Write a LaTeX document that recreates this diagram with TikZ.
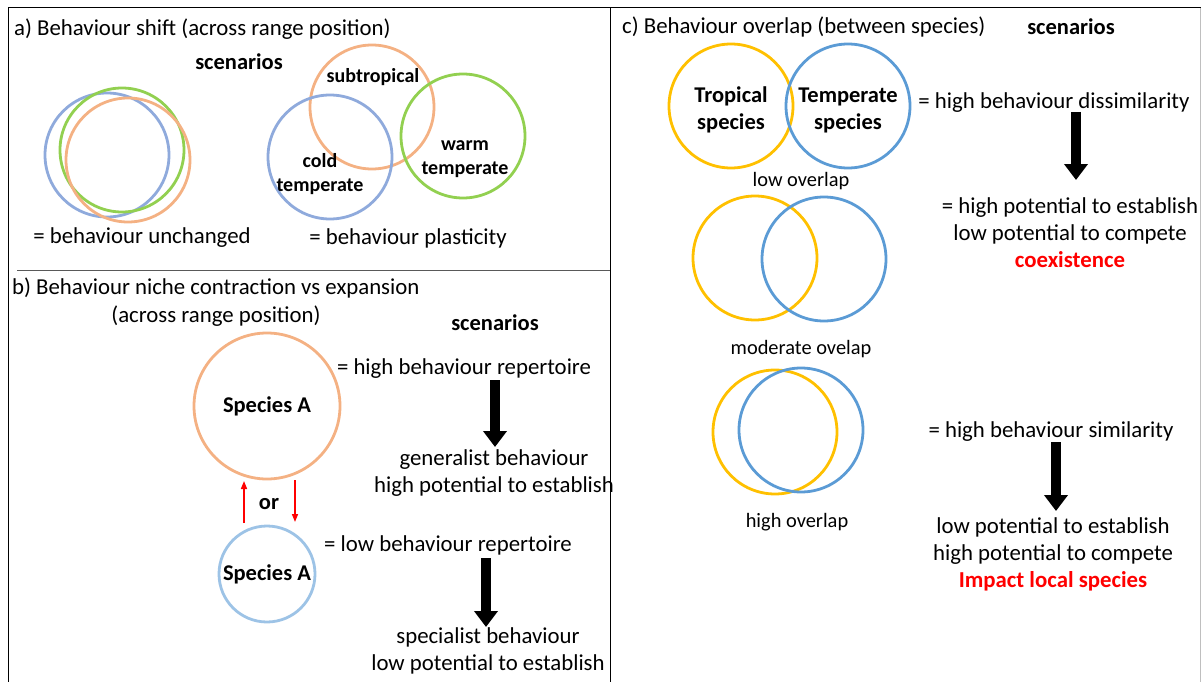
\documentclass[tikz,border=0pt]{standalone}
\usepackage{fontspec}
\setmainfont{Carlito}
\usetikzlibrary{arrows.meta}
\definecolor{cblue}{HTML}{8FAADC}
\definecolor{cgreen}{HTML}{92D050}
\definecolor{corange}{HTML}{F4B183}
\definecolor{clight}{HTML}{9DC3E6}
\definecolor{cyellow}{HTML}{FFC000}
\definecolor{csky}{HTML}{5B9BD5}
\begin{document}
\begin{tikzpicture}[x=1pt,y=1pt]
\tikzstyle{every node}+=[inner sep=0pt]
\tikzstyle{txt}=[font=\fontsize{22.8}{27}\selectfont,align=center]
\tikzstyle{small}=[font=\fontsize{20.4}{24}\selectfont,align=center]
\tikzstyle{bold}=[font=\fontsize{22.5}{27}\selectfont\bfseries,align=center]
\tikzstyle{boldsmall}=[font=\fontsize{20}{24}\selectfont\bfseries,align=center]
\tikzstyle{ring}=[circle,line width=2.8pt,minimum size=124pt]
\tikzstyle{bigarrow}=[line width=10pt,-{Triangle[width=23pt,length=16pt]}]
\tikzstyle{redarrow}=[red,line width=1.5pt,-{Triangle[width=6pt,length=8pt]}]
\useasboundingbox (0,0) rectangle (1201,-682);
\draw [black,line width=1pt] (8,-682) -- (8,-8) -- (1201,-8);
\draw [black,line width=1pt] (610,-8) -- (610,-682);
\draw [gray!50,line width=1pt] (1200,-8) -- (1200,-682);
\draw [gray!70!black,line width=1pt] (17,-270) -- (610,-270);
\node [txt,anchor=west] (ttla) at (14,-29) {a) Behaviour shift (across range position)};
\node [bold] (scna) at (239,-62) {scenarios};
\node [ring,draw=cblue] (ub) at (107,-155) {};
\node [ring,draw=cgreen] (ug) at (122,-150) {};
\node [ring,draw=corange] (uo) at (128,-160) {};
\node [ring,draw=corange] (sub) at (372,-107) {};
\node [ring,draw=cblue] (cold) at (330,-157) {};
\node [ring,draw=cgreen] (warm) at (463,-136) {};
\node [boldsmall] (subl) at (373,-77) {subtropical};
\node [boldsmall] (coldl) at (320,-174) {cold\\temperate};
\node [boldsmall] (warml) at (465,-159) {warm\\temperate};
\node [txt] (unch) at (142,-238) {= behaviour unchanged};
\node [txt] (plas) at (408,-238) {= behaviour plasticity};
\node [txt,anchor=west] (ttlb) at (12,-288) {b) Behaviour niche contraction vs expansion};
\node [txt] (ttlb2) at (216,-316) {(across range position)};
\node [bold] (scnb) at (495,-323) {scenarios};
\node [circle,draw=corange,line width=2.8pt,minimum size=146pt,bold] (spbig) at (267,-406) {Species A};
\node [circle,draw=clight,line width=2.8pt,minimum size=96pt,bold] (spsmall) at (267,-574) {Species A};
\node [txt] (hirep) at (464,-369) {= high behaviour repertoire};
\node [txt] (gen) at (494,-473) {generalist behaviour\\high potential to establish};
\node [txt] (lorep) at (448,-545) {= low behaviour repertoire};
\node [txt] (spec) at (488,-651) {specialist behaviour\\low potential to establish};
\node [bold] (or) at (269,-504) {or};
\coordinate (upa) at (244,-523);
\coordinate (upb) at (244,-481);
\coordinate (dna) at (295,-480);
\coordinate (dnb) at (295,-522);
\draw [redarrow] (upa) -- (upb);
\draw [redarrow] (dna) -- (dnb);
\coordinate (b1a) at (495,-380);
\coordinate (b1b) at (495,-447);
\coordinate (b2a) at (486,-558);
\coordinate (b2b) at (486,-627);
\draw [bigarrow] (b1a) -- (b1b);
\draw [bigarrow] (b2a) -- (b2b);
\node [txt,anchor=west] (ttlc) at (622,-27) {c) Behaviour overlap (between species)};
\node [bold] (scnc) at (1071,-27) {scenarios};
\node [ring,draw=cyellow,bold] (trop) at (731,-106) {\\[-4pt]Tropical\\species};
\node [ring,draw=csky,bold] (temp) at (848,-106) {\\[-4pt]Temperate\\species};
\node [small] (lowov) at (801,-181) {low overlap};
\node [ring,draw=cyellow] (myel) at (755,-258) {};
\node [ring,draw=csky] (mblu) at (824,-259) {};
\node [small] (modov) at (801,-349) {moderate ovelap};
\node [ring,draw=cyellow] (hyel) at (775,-432) {};
\node [ring,draw=csky] (hblu) at (801,-430) {};
\node [small] (hiov) at (797,-522) {high overlap};
\node [txt] (dis) at (1054,-103) {= high behaviour dissimilarity};
\node [txt] (coex) at (1070,-233) {= high potential to establish\\low potential to compete\\{\color{red}\bfseries coexistence}};
\node [txt] (sim) at (1051,-432) {= high behaviour similarity};
\node [txt] (imp) at (1053,-554) {low potential to establish\\high potential to compete\\{\color{red}\bfseries Impact local species}};
\coordinate (c1a) at (1076,-112);
\coordinate (c1b) at (1076,-180);
\coordinate (c2a) at (1056,-442);
\coordinate (c2b) at (1056,-511);
\draw [bigarrow] (c1a) -- (c1b);
\draw [bigarrow] (c2a) -- (c2b);
\end{tikzpicture}
\end{document}
